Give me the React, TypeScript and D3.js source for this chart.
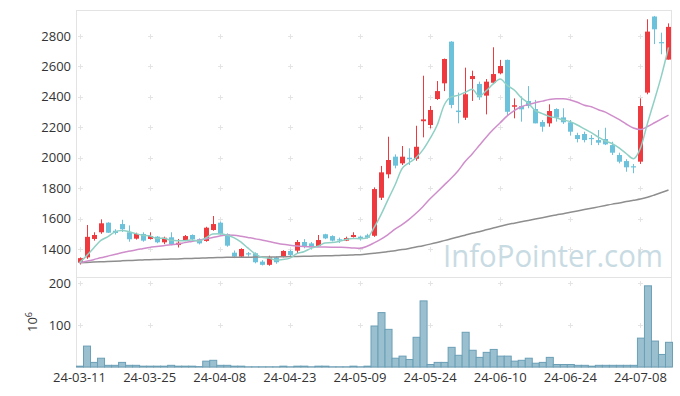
import React from "react";
import * as d3 from "d3";

// trading days 2024-03-11 .. 2024-07-12 (yy-mm-dd)
const dates = [
  "24-03-11", "24-03-12", "24-03-13", "24-03-14", "24-03-15", "24-03-18", "24-03-19", "24-03-20", "24-03-21", "24-03-22",
  "24-03-25", "24-03-26", "24-03-27", "24-03-28", "24-03-29", "24-04-01", "24-04-02", "24-04-03", "24-04-04", "24-04-05",
  "24-04-08", "24-04-09", "24-04-11", "24-04-12", "24-04-15", "24-04-16", "24-04-17", "24-04-18", "24-04-19", "24-04-22",
  "24-04-23", "24-04-24", "24-04-25", "24-04-26", "24-04-29", "24-04-30", "24-05-02", "24-05-03", "24-05-07", "24-05-08",
  "24-05-09", "24-05-10", "24-05-13", "24-05-14", "24-05-16", "24-05-17", "24-05-20", "24-05-21", "24-05-22", "24-05-23",
  "24-05-24", "24-05-27", "24-05-28", "24-05-29", "24-05-30", "24-05-31", "24-06-03", "24-06-04", "24-06-05", "24-06-07",
  "24-06-10", "24-06-11", "24-06-12", "24-06-13", "24-06-14", "24-06-17", "24-06-18", "24-06-19", "24-06-20", "24-06-21",
  "24-06-24", "24-06-25", "24-06-26", "24-06-27", "24-06-28", "24-07-01", "24-07-02", "24-07-03", "24-07-04", "24-07-05",
  "24-07-08", "24-07-09", "24-07-10", "24-07-11", "24-07-12",
];

const opens = [
  1310, 1345, 1466, 1510, 1573, 1520, 1564, 1510, 1468, 1499,
  1466, 1481, 1444, 1477, 1426, 1455, 1492, 1464, 1453, 1525,
  1573, 1497, 1376, 1350, 1372, 1372, 1317, 1296, 1345, 1350,
  1387, 1389, 1446, 1437, 1420, 1497, 1485, 1464, 1455, 1479,
  1481, 1490, 1487, 1737, 1891, 2007, 1963, 2000, 1993, 2240,
  2215, 2386, 2489, 2763, 2310, 2263, 2517, 2485, 2408, 2493,
  2555, 2643, 2335, 2340, 2373, 2320, 2235, 2226, 2320, 2265,
  2233, 2149, 2156, 2130, 2116, 2123, 2083, 2018, 1978, 1944,
  1974, 2428, 2928, 2760, 2645,
];
const highs = [
  1345, 1558, 1510, 1595, 1576, 1530, 1592, 1555, 1507, 1510,
  1510, 1485, 1481, 1510, 1466, 1492, 1496, 1470, 1546, 1617,
  1580, 1503, 1390, 1405, 1380, 1378, 1327, 1356, 1352, 1392,
  1395, 1459, 1465, 1446, 1492, 1500, 1490, 1475, 1481, 1510,
  1488, 1500, 1805, 1946, 2138, 2022, 2077, 2062, 2210, 2539,
  2340, 2504, 2652, 2766, 2428, 2592, 2572, 2500, 2517, 2726,
  2643, 2645, 2390, 2403, 2471, 2380, 2248, 2351, 2325, 2325,
  2248, 2164, 2171, 2149, 2182, 2197, 2105, 2033, 1990, 1959,
  2390, 2910, 2932, 2822, 2883,
];
const lows = [
  1298, 1335, 1455, 1500, 1505, 1495, 1512, 1448, 1462, 1448,
  1462, 1438, 1432, 1425, 1410, 1452, 1458, 1430, 1448, 1520,
  1494, 1415, 1340, 1346, 1350, 1306, 1292, 1290, 1303, 1345,
  1354, 1370, 1405, 1396, 1415, 1465, 1450, 1440, 1452, 1475,
  1455, 1468, 1480, 1722, 1865, 1930, 1952, 1952, 1980, 2134,
  2193, 2380, 2438, 2325, 2226, 2248, 2373, 2380, 2285, 2490,
  2548, 2274, 2259, 2237, 2325, 2226, 2171, 2204, 2237, 2222,
  2145, 2101, 2101, 2083, 2083, 2083, 2018, 1963, 1908, 1898,
  1959, 2417, 2747, 2680, 2645,
];
const closes = [
  1340, 1480, 1492, 1569, 1507, 1505, 1530, 1464, 1499, 1455,
  1485, 1444, 1474, 1433, 1441, 1485, 1464, 1437, 1540, 1564,
  1497, 1422, 1350, 1400, 1366, 1313, 1296, 1345, 1313, 1387,
  1361, 1446, 1415, 1411, 1459, 1470, 1455, 1457, 1472, 1492,
  1466, 1474, 1794, 1904, 1985, 1948, 2007, 1990, 2072, 2252,
  2314, 2438, 2649, 2347, 2300, 2417, 2537, 2397, 2500, 2550,
  2603, 2302, 2345, 2318, 2340, 2226, 2204, 2307, 2263, 2233,
  2171, 2123, 2116, 2123, 2099, 2088, 2033, 1974, 1937, 1940,
  2340, 2829, 2844, 2752, 2860,
];

// volume, 10^6 shares
const volumes = [
  2, 50, 11, 21, 4, 4, 11, 4, 4, 2,
  2, 2, 2, 4, 2, 2, 2, 1, 14, 16,
  4, 4, 2, 2, 0.5, 0.5, 0.5, 0.5, 0.5, 2,
  0.5, 2, 2, 0.5, 2, 2, 0.5, 0.5, 0.5, 2,
  0.5, 2, 98, 130, 90, 21, 26, 18, 71, 158,
  6, 11, 11, 47, 28, 83, 40, 23, 35, 42,
  26, 26, 14, 16, 21, 9, 11, 23, 6, 6,
  6, 4, 4, 2, 4, 4, 4, 4, 4, 4,
  69, 194, 62, 30, 59,
];

// moving averages
const ma5 = [
  1310, 1355, 1405, 1455, 1480, 1511, 1521, 1515, 1501, 1491,
  1487, 1469, 1471, 1458, 1455, 1455, 1459, 1452, 1473, 1498,
  1500, 1492, 1475, 1447, 1407, 1370, 1345, 1340, 1327, 1331,
  1340, 1370, 1382, 1404, 1418, 1440, 1442, 1450, 1463, 1469,
  1468, 1472, 1540, 1626, 1725, 1821, 1928, 1967, 2000, 2053,
  2127, 2213, 2345, 2400, 2410, 2430, 2450, 2405, 2440, 2485,
  2517, 2475, 2445, 2395, 2360, 2310, 2290, 2272, 2262, 2248,
  2237, 2215, 2190, 2165, 2135, 2110, 2092, 2063, 2026, 1994,
  2063, 2226, 2380, 2540, 2725,
];
const ma20 = [
  1310, 1320, 1330, 1342, 1353, 1364, 1375, 1385, 1394, 1402,
  1410, 1416, 1422, 1428, 1433, 1442, 1450, 1458, 1466, 1476,
  1486, 1492, 1490, 1484, 1476, 1468, 1459, 1450, 1440, 1431,
  1425, 1420, 1417, 1415, 1414, 1413, 1412, 1411, 1410, 1407,
  1405, 1418, 1440, 1465, 1495, 1530, 1560, 1595, 1635, 1680,
  1730, 1775, 1820, 1865, 1915, 1975, 2025, 2080, 2135, 2185,
  2230, 2275, 2310, 2335, 2350, 2362, 2372, 2383, 2388, 2388,
  2380, 2365, 2345, 2335, 2315, 2300, 2275, 2250, 2220, 2195,
  2185, 2205, 2230, 2255, 2280,
];
const ma60 = [
  1310, 1312, 1314, 1316, 1318, 1320, 1322, 1324, 1326, 1328,
  1330, 1331, 1332, 1334, 1335, 1337, 1338, 1340, 1341, 1343,
  1344, 1345, 1345, 1346, 1346, 1347, 1347, 1348, 1348, 1349,
  1350, 1351, 1352, 1353, 1354, 1355, 1356, 1358, 1359, 1361,
  1363, 1367, 1372, 1377, 1383, 1389, 1396, 1404, 1413, 1422,
  1432, 1443, 1455, 1467, 1479, 1491, 1503, 1514, 1526, 1538,
  1550, 1561, 1570, 1579, 1588, 1597, 1606, 1615, 1624, 1632,
  1641, 1650, 1659, 1668, 1677, 1686, 1695, 1703, 1712, 1720,
  1728, 1740, 1755, 1771, 1788,
];

const priceTicks = [1400, 1600, 1800, 2000, 2200, 2400, 2600, 2800];
const volumeTicks = [100, 200];
const labelStep = 10;

const W = 680;
const H = 396;
const left = 76;
const right = 672;
const priceTop = 10;
const priceBottom = 277;
const volTop = 278;
const volBottom = 367;

const UP = "#ee3a3f";
const DOWN = "#6cc2da";
const FONT = "'Open Sans', 'Noto Sans', sans-serif";

export default function App() {
  const idx = dates.map((_, i) => i);
  const x = d3.scaleBand<number>().domain(idx).range([left, right]).padding(0);
  const bw = x.bandwidth();
  const cx = (i: number) => (x(i) as number) + bw / 2;
  const y = d3.scaleLinear().domain([1216, 2971]).range([priceBottom, priceTop]);
  const yv = d3.scaleLinear().domain([0, 212.7]).range([volBottom, volTop]);

  const line = d3
    .line<number>()
    .x((_, i) => cx(i))
    .y((d) => y(d))
    .curve(d3.curveMonotoneX);

  const tickIdx = idx.filter((i) => i % labelStep === 0);
  const cross = (px: number, py: number, key: string) => (
    <g key={key} stroke="#e4e4e4" strokeWidth={1}>
      <line x1={px - 2.5} x2={px + 2.5} y1={py} y2={py} />
      <line x1={px} x2={px} y1={py - 2.5} y2={py + 2.5} />
    </g>
  );

  return (
    <svg
      width={W}
      height={H}
      style={{ position: "absolute", left: 0, top: 0, background: "#fff" }}
      fontFamily={FONT}
    >
      {/* panel frames */}
      <g stroke="#e3e3e3" strokeWidth={1} fill="none">
        <line x1={left} x2={right} y1={priceTop + 0.5} y2={priceTop + 0.5} />
        <line x1={left} x2={right} y1={volTop - 0.5} y2={volTop - 0.5} />
        <line x1={left} x2={right} y1={volBottom + 0.5} y2={volBottom + 0.5} />
        <line x1={left + 0.5} x2={left + 0.5} y1={priceTop} y2={volBottom} />
        <line x1={right - 0.5} x2={right - 0.5} y1={priceTop} y2={volBottom} />
      </g>

      {/* grid crosses */}
      {tickIdx.map((i) =>
        priceTicks.map((p) => cross(Math.round(cx(i)) + 0.5, Math.round(y(p)) + 0.5, `p${i}-${p}`))
      )}
      {tickIdx.map((i) =>
        volumeTicks.map((v) => cross(Math.round(cx(i)) + 0.5, Math.round(yv(v)) + 0.5, `v${i}-${v}`))
      )}

      {/* watermark */}
      <text
        x={443}
        y={267}
        fontSize={31}
        fontWeight={500}
        fill="#c8dbe3"
        textLength={220}
        lengthAdjust="spacingAndGlyphs"
        fontFamily="'Open Sans', sans-serif"
      >
        InfoPointer.com
      </text>

      {/* candles */}
      {idx.map((i) => {
        const up = closes[i] >= opens[i];
        const col = up ? UP : DOWN;
        const top = y(Math.max(opens[i], closes[i]));
        const bot = y(Math.min(opens[i], closes[i]));
        const bodyW = 5;
        return (
          <g key={`c${i}`}>
            <line
              x1={Math.round(cx(i)) + 0.5}
              x2={Math.round(cx(i)) + 0.5}
              y1={y(highs[i])}
              y2={y(lows[i])}
              stroke={col}
              strokeWidth={1}
            />
            <rect
              x={Math.round(cx(i)) + 0.5 - bodyW / 2}
              y={top}
              width={bodyW}
              height={Math.max(1.2, bot - top)}
              fill={col}
            />
          </g>
        );
      })}

      {/* moving averages */}
      <path d={line(ma60) ?? ""} fill="none" stroke="#8e8e8e" strokeWidth={1.5} />
      <path d={line(ma20) ?? ""} fill="none" stroke="#cf8ecb" strokeWidth={1.5} />
      <path d={line(ma5) ?? ""} fill="none" stroke="#8fd0c5" strokeWidth={1.5} />

      {/* volume bars */}
      {idx.map((i) => (
        <rect
          key={`v${i}`}
          x={(x(i) as number) + 0.5}
          y={yv(volumes[i])}
          width={bw}
          height={volBottom - yv(volumes[i])}
          fill="#9ac0d0"
          stroke="#6b9fb6"
          strokeWidth={1}
        />
      ))}

      {/* y axis labels */}
      <g fontSize={13} fill="#333" textAnchor="end">
        {priceTicks.map((p) => (
          <text key={`pt${p}`} x={71} y={y(p) + 4.6}>
            {p}
          </text>
        ))}
        {volumeTicks.map((v) => (
          <text key={`vt${v}`} x={71} y={yv(v) + 4.6}>
            {v}
          </text>
        ))}
      </g>
      <text transform="translate(37,322) rotate(-90)" textAnchor="middle" fontSize={13} fill="#333">
        10
        <tspan dy={-5} fontSize={9}>
          6
        </tspan>
      </text>

      {/* x axis labels */}
      <g fontSize={13} fill="#333" textAnchor="middle">
        {tickIdx.map((i) => (
          <text key={`xt${i}`} x={cx(i)} y={382}>
            {dates[i]}
          </text>
        ))}
      </g>
    </svg>
  );
}
